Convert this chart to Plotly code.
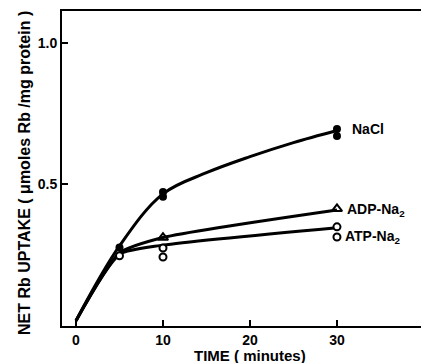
import plotly.graph_objects as go

# --- data ---
# fitted curves (control points)
nacl_curve_t = [0, 5, 10, 15, 20, 25, 30]
nacl_curve_y = [0.015, 0.28, 0.465, 0.54, 0.597, 0.647, 0.69]
adp_curve_t = [0, 5, 10, 30]
adp_curve_y = [0.015, 0.255, 0.31, 0.408]
atp_curve_t = [0, 5, 10, 30]
atp_curve_y = [0.015, 0.25, 0.283, 0.345]

# measured points
nacl_pts_t = [5, 10, 10, 30, 30]
nacl_pts_y = [0.275, 0.472, 0.455, 0.695, 0.67]
adp_pts_t = [10, 30]
adp_pts_y = [0.31, 0.412]
atp_pts_t = [5, 10, 10, 30, 30]
atp_pts_y = [0.245, 0.273, 0.241, 0.348, 0.312]

series_labels = ["NaCl", "ADP-Na<sub>2</sub>", "ATP-Na<sub>2</sub>"]
label_y = [0.695, 0.408, 0.312]
label_t = [31.5, 30.9, 30.7]

x_ticks = [0, 10, 20, 30]
y_ticks = [0.5, 1.0]
y_tick_text = ["0.5", "1.0"]

FONT = "Liberation Sans"

fig = go.Figure()
for t, y, sm in [(nacl_curve_t, nacl_curve_y, 1.0), (adp_curve_t, adp_curve_y, 0.6),
                 (atp_curve_t, atp_curve_y, 0.6)]:
    fig.add_trace(go.Scatter(x=t, y=y, mode="lines",
                             line=dict(color="black", width=3, shape="spline", smoothing=sm),
                             showlegend=False, hoverinfo="skip"))

fig.add_trace(go.Scatter(x=nacl_pts_t, y=nacl_pts_y, mode="markers",
                         marker=dict(symbol="circle", size=8, color="black"),
                         showlegend=False))
fig.add_trace(go.Scatter(x=adp_pts_t, y=adp_pts_y, mode="markers",
                         marker=dict(symbol="triangle-up-open", size=9, color="black",
                                     line=dict(width=2)),
                         showlegend=False))
fig.add_trace(go.Scatter(x=atp_pts_t, y=atp_pts_y, mode="markers",
                         marker=dict(symbol="circle", size=7, color="white",
                                     line=dict(width=2, color="black")),
                         showlegend=False))

for txt, tx, ty in zip(series_labels, label_t, label_y):
    fig.add_annotation(x=tx, y=ty, text=txt, showarrow=False, xanchor="left", yanchor="middle",
                       font=dict(family=FONT, size=14, color="black", weight="bold"))

# axis titles placed as paper annotations
fig.add_annotation(xref="paper", yref="paper", x=0.524, y=-0.095, text="TIME ( minutes)",
                   showarrow=False, xanchor="center", yanchor="middle",
                   font=dict(family=FONT, size=15, color="black", weight="bold"))
fig.add_annotation(xref="paper", yref="paper", x=-0.103, y=0.486,
                   text="NET Rb UPTAKE ( \u03bcmoles Rb /mg protein )", textangle=-90,
                   showarrow=False, xanchor="center", yanchor="middle",
                   font=dict(family=FONT, size=16, color="black", weight="bold"))

fig.update_layout(
    width=421, height=363,
    margin=dict(l=62, r=0, t=11, b=37, autoexpand=False),
    paper_bgcolor="white", plot_bgcolor="white",
    font=dict(family=FONT, color="black", weight="bold"),
    xaxis=dict(range=[-1.61, 39.66], tickvals=x_ticks, ticks="inside", ticklen=6, tickwidth=2,
               tickcolor="black", showline=True, linecolor="black", linewidth=2, mirror=True,
               showgrid=False, zeroline=False, ticklabelstandoff=0,
               tickfont=dict(family=FONT, size=14, color="black", weight="bold")),
    yaxis=dict(range=[-0.004, 1.114], tickvals=y_ticks, ticktext=y_tick_text, ticks="inside",
               ticklen=6, tickwidth=2, tickcolor="black", showline=True, linecolor="black",
               linewidth=2, showgrid=False, zeroline=False,
               tickfont=dict(family=FONT, size=14, color="black", weight="bold")),
)

fig.write_html("out.html", config={"displayModeBar": False},
               post_script="document.body.style.margin='0';document.body.style.overflow='hidden';")
